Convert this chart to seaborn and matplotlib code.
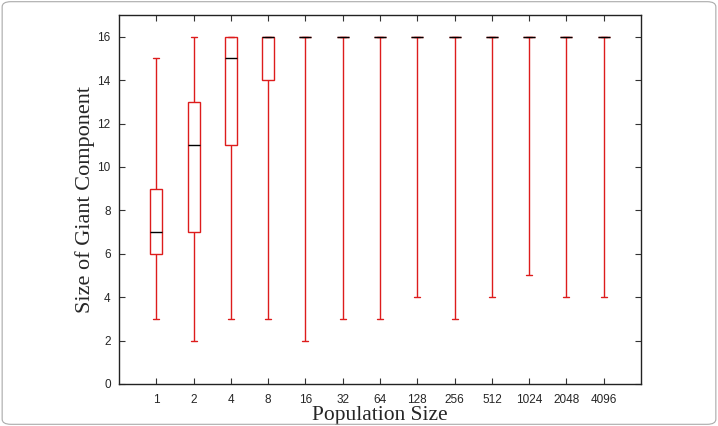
import seaborn as sns
import pandas as pd
import matplotlib.pyplot as plt
from matplotlib.patches import FancyBboxPatch

# population sizes (x categories)
pop_sizes = ["1", "2", "4", "8", "16", "32", "64", "128", "256", "512", "1024", "2048", "4096"]
# five-number summaries: min, q1, median, q3, max
mins    = [3, 2, 3, 3, 2, 3, 3, 4, 3, 4, 5, 4, 4]
q1s     = [6, 7, 11, 14, 16, 16, 16, 16, 16, 16, 16, 16, 16]
medians = [7, 11, 15, 16, 16, 16, 16, 16, 16, 16, 16, 16, 16]
q3s     = [9, 13, 16, 16, 16, 16, 16, 16, 16, 16, 16, 16, 16]
maxs    = [15, 16, 16, 16, 16, 16, 16, 16, 16, 16, 16, 16, 16]

rows = []
for i, p in enumerate(pop_sizes):
    for v in (mins[i], q1s[i], medians[i], q3s[i], maxs[i]):
        rows.append({"pop": p, "size": v})
df = pd.DataFrame(rows)

sns.set_style("ticks")
plt.rcParams["font.family"] = ["Liberation Sans", "DejaVu Sans"]

fig = plt.figure(figsize=(7.18, 4.26), dpi=100)
ax = fig.add_axes([0.1657, 0.0986, 0.7271, 0.8662])

red = "#dd1c1c"
sns.boxplot(data=df, x="pop", y="size", order=pop_sizes, whis=(0, 100), width=0.32,
            color="white", linecolor=red, linewidth=1.0, fliersize=0,
            medianprops={"color": "black", "linewidth": 1.0},
            capprops={"color": red}, whiskerprops={"color": red},
            boxprops={"edgecolor": red, "facecolor": "white"},
            ax=ax)

ax.set_xlim(-1, 13)
ax.set_ylim(0, 17)
ax.set_yticks(range(0, 17, 2))
ax.tick_params(direction="in", top=True, right=True, labelsize=8.5, length=4, color="#333333")
ax.tick_params(axis="x", pad=7)
ax.tick_params(axis="y", pad=6)
for s in ax.spines.values():
    s.set_visible(True)
    s.set_linewidth(1.0)
    s.set_color("#222222")

ax.set_xlabel("Population Size", family="Liberation Serif", fontsize=15.5, labelpad=0)
ax.set_ylabel("Size of Giant Component", family="Liberation Serif", fontsize=16, labelpad=2)

# rounded frame around the whole image
fig.patches.append(FancyBboxPatch((0.003, 0.004), 0.994, 0.992, boxstyle="round,pad=0,rounding_size=0.012",
                                  transform=fig.transFigure, fill=False, edgecolor="#aaaaaa", linewidth=0.8))

fig.savefig("out.png", dpi=100)
